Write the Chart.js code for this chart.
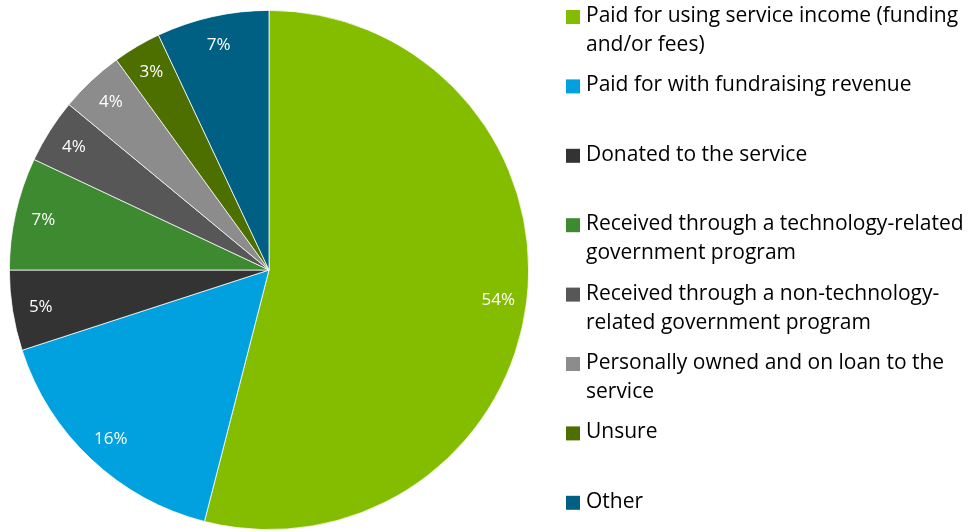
<!DOCTYPE html>
<html>
<head>
<meta charset="utf-8">
<script src="https://cdn.jsdelivr.net/npm/chart.js@4"></script>
<style>
  html, body { margin: 0; padding: 0; background: #ffffff; }
  #wrap { width: 976px; height: 532px; position: relative; }
</style>
</head>
<body>
<div id="wrap"><canvas id="c" width="976" height="532"></canvas></div>
<script>
// Categories (legend lines as shown in the reference)
const categories = [
  ["Paid for using service income (funding", "and/or fees)"],
  ["Paid for with fundraising revenue"],
  ["Donated to the service"],
  ["Received through a technology-related", "government program"],
  ["Received through a non-technology-", "related government program"],
  ["Personally owned and on loan to the", "service"],
  ["Unsure"],
  ["Other"]
];
// Share of respondents (%)
const shareValues = [54, 16, 5, 7, 4, 4, 3, 7];
const sliceColors = ["#84bd00", "#00a1de", "#333333", "#3d8a31", "#575757", "#8c8c8c", "#4c6f00", "#006083"];

const FONT = "'Open Sans', 'DejaVu Sans', sans-serif";

const sliceLabels = {
  id: 'sliceLabels',
  afterDatasetsDraw(chart) {
    const ctx = chart.ctx;
    const meta = chart.getDatasetMeta(0);
    ctx.save();
    ctx.fillStyle = '#ffffff';
    ctx.font = '17px ' + FONT;
    ctx.textAlign = 'center';
    ctx.textBaseline = 'middle';
    meta.data.forEach((arc, i) => {
      const p = arc.getProps(['x', 'y', 'startAngle', 'endAngle', 'outerRadius'], true);
      const mid = (p.startAngle + p.endAngle) / 2;
      const r = p.outerRadius * 0.89;
      ctx.fillText(shareValues[i] + '%', p.x + Math.cos(mid) * r, p.y + Math.sin(mid) * r + 1);
    });
    ctx.restore();
  }
};

const sideLegend = {
  id: 'sideLegend',
  afterDraw(chart) {
    const ctx = chart.ctx;
    const ds = chart.data.datasets[0];
    const boxX = 566, box = 14, textX = 586, startY = 16, step = 69.4, lineH = 29;
    ctx.save();
    ctx.font = '21px ' + FONT;
    ctx.textAlign = 'left';
    ctx.textBaseline = 'middle';
    chart.data.labels.forEach((lines, i) => {
      const y = startY + i * step;
      ctx.fillStyle = ds.backgroundColor[i];
      ctx.fillRect(boxX, y - box / 2 + 1, box, box);
      ctx.fillStyle = '#000000';
      lines.forEach((ln, j) => ctx.fillText(ln, textX, y + j * lineH));
    });
    ctx.restore();
  }
};

new Chart(document.getElementById('c'), {
  type: 'pie',
  data: {
    labels: categories,
    datasets: [{
      data: shareValues,
      backgroundColor: sliceColors,
      borderColor: '#ffffff',
      borderWidth: 0.75
    }]
  },
  options: {
    responsive: false,
    animation: false,
    layout: { padding: { left: 9, right: 447, top: 10, bottom: 2 } },
    plugins: {
      legend: { display: false },
      tooltip: { enabled: false }
    }
  },
  plugins: [sliceLabels, sideLegend]
});
</script>
</body>
</html>
